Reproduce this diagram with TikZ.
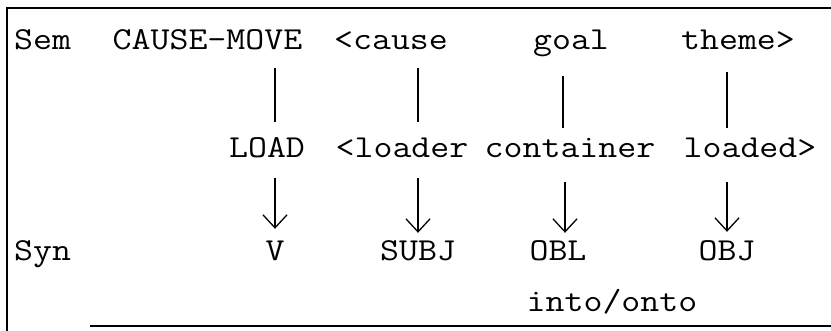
\documentclass[tikz,border=0pt]{standalone}
\usepackage{fontspec}
\newfontfamily\tw{Latin Modern Mono}[FakeStretch=1.15]
\usetikzlibrary{arrows.meta}
\begin{document}
\begin{tikzpicture}[x=1pt,y=-1pt,
  lbl/.style={font=\tw\fontsize{32}{32}\selectfont, inner sep=0pt, anchor=base, text height=20pt, text depth=6pt},
  link/.style={line width=1.3pt},
  arr/.style={line width=1.3pt, -{Straight Barb[length=13pt,width=24pt,line width=1.3pt]}},
  frame/.style={line width=1.5pt}]
\useasboundingbox (0,0) rectangle (831,331);
% frame
\draw[frame] (831,8) -- (7,8) -- (7,331);
\draw[frame] (90,326) -- (831,326);
% row 1
\node[lbl, anchor=base west] (sem) at (14,50) {Sem};
\node[lbl] (cm) at (207.5,50) {CAUSE-MOVE};
\node[lbl] (cause) at (391,50) {<cause};
\node[lbl] (goal) at (571,50) {goal};
\node[lbl] (theme) at (738,50) {theme>};
% row 2
\node[lbl] (load) at (267,158) {LOAD};
\node[lbl] (loader) at (402,158) {<loader};
\node[lbl] (cont) at (570,158) {container};
\node[lbl] (loaded) at (750,158) {loaded>};
% row 3
\node[lbl, anchor=base west] (syn) at (14,261) {Syn};
\node[lbl] (v) at (275,261) {V};
\node[lbl] (subj) at (418,261) {SUBJ};
\node[lbl] (obl) at (558,261) {OBL};
\node[lbl] (obj) at (727,261) {OBJ};
\node[lbl] (into) at (612,312) {into/onto};
% links
\draw[link, shorten <=12pt, shorten >=16pt] (cm.south -| v) -- (load.north -| v);
\draw[link, shorten <=12pt, shorten >=16pt] (cause.south -| subj) -- (loader.north -| subj);
\draw[link, shorten <=20pt, shorten >=10pt] ([xshift=5pt]goal.south -| obl) -- ([xshift=5pt]cont.north -| obl);
\draw[link, shorten <=16pt, shorten >=10pt] (theme.south -| obj) -- (loaded.north -| obj);
% arrows
\draw[arr, shorten <=14pt, shorten >=12pt] (load.south -| v) -- (v.north);
\draw[arr, line width=2pt, shorten <=14pt, shorten >=8pt] (loader.south -| subj) -- (subj.north);
\draw[arr, shorten <=18pt, shorten >=8pt] ([xshift=7pt]cont.south -| obl) -- ([xshift=7pt]obl.north);
\draw[arr, shorten <=18pt, shorten >=9pt] (loaded.south -| obj) -- (obj.north);
\end{tikzpicture}
\end{document}
